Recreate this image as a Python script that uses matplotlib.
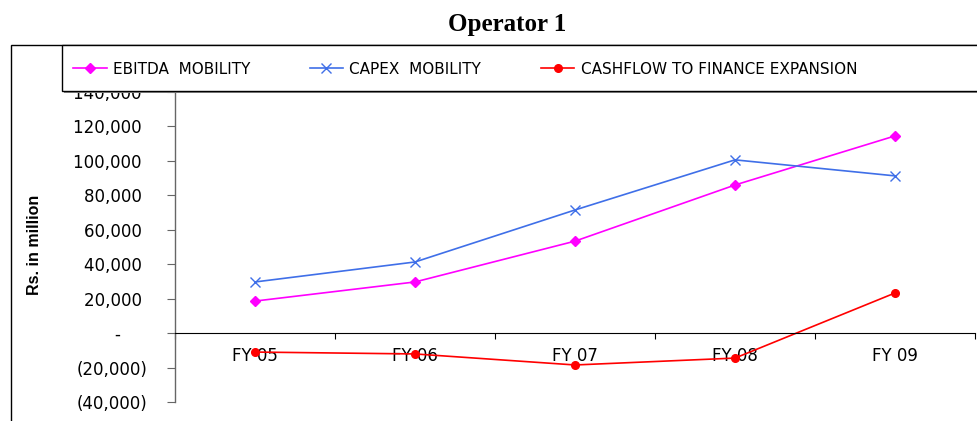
import matplotlib
matplotlib.use("Agg")
import matplotlib.pyplot as plt
from matplotlib.patches import Rectangle
from matplotlib.ticker import FixedLocator, FuncFormatter, NullFormatter

# ---------------------------------------------------------------------------
# Data (Rs. in million)
# ---------------------------------------------------------------------------
years    = ["FY 05", "FY 06", "FY 07", "FY 08", "FY 09"]
ebitda   = [18600, 29700, 53400, 86000, 114500]
capex    = [29700, 41300, 71500, 100600, 91300]
cashflow = [-11000, -12100, -18500, -14500, 23300]

series_names  = ["EBITDA  MOBILITY", "CAPEX  MOBILITY",
                 "CASHFLOW TO FINANCE EXPANSION"]
y_ticks = [-40000, -20000, 0, 20000, 40000, 60000, 80000, 100000, 120000, 140000]

W, H = 978, 421
fig = plt.figure(figsize=(W / 100, H / 100), dpi=100)
fig.patch.set_facecolor("white")


def fx(px):
    return px / W


def fy(py):
    return 1 - py / H


ax = fig.add_axes([fx(175), fy(402), (975 - 175) / W, (402 - 92) / H])

x = list(range(len(years)))
l1, = ax.plot(x, ebitda, color="#ff00ff", lw=1.2, marker="D", ms=5.5,
              mec="#ff00ff", mfc="#ff00ff")
l2, = ax.plot(x, capex, color="#3f6fe8", lw=1.2, marker="x", ms=7,
              mew=1.0)
l3, = ax.plot(x, cashflow, color="#ff0000", lw=1.2, marker="o", ms=5.5)

ax.set_xlim(-0.5, len(years) - 0.5)
ax.set_ylim(-40000, 140000)

# spines
ax.spines["top"].set_visible(False)
ax.spines["right"].set_visible(False)
ax.spines["bottom"].set_position(("data", 0))
ax.spines["bottom"].set_color("black")
ax.spines["left"].set_color("#666666")
ax.spines["left"].set_linewidth(1.0)

# x axis: tick marks on category boundaries, labels on centres
bounds = [i - 0.5 for i in range(len(years) + 1)]
ax.xaxis.set_major_locator(FixedLocator(bounds))
ax.xaxis.set_major_formatter(NullFormatter())
ax.xaxis.set_minor_locator(FixedLocator(x))
ax.set_xticklabels(years, minor=True)
ax.tick_params(axis="x", which="major", length=4, direction="out",
               color="black", width=0.8)
ax.tick_params(axis="x", which="minor", length=0, pad=10, labelsize=12)


def fmt(v, pos):
    if v == 0:
        return "-     "
    if v < 0:
        return "({:,.0f})".format(-v)
    return "{:,.0f} ".format(v)


ax.yaxis.set_major_locator(FixedLocator(y_ticks))
ax.yaxis.set_major_formatter(FuncFormatter(fmt))
ax.tick_params(axis="y", length=6, direction="out", color="#666666",
               width=0.8, pad=14, labelsize=12)

ax.set_ylabel("Rs. in million", fontsize=11.5, fontweight="bold",
              family="Liberation Sans")
ax.yaxis.set_label_coords(-0.166, 0.506)

# title
fig.text(fx(507), fy(25), "Operator 1", ha="center", va="center",
         fontsize=18, fontweight="bold", family="Liberation Serif")

# outer chart frame (clipped by the image edges, like the reference)
fig.patches.append(Rectangle((fx(11), -0.2), 1.2, fy(45) + 0.2,
                             transform=fig.transFigure, fill=False,
                             edgecolor="black", lw=1.0, zorder=0.5))

# legend box with a soft shadow on its lower edge
fig.patches.append(Rectangle((fx(64), fy(93)), 1.2, (93 - 47) / H,
                             transform=fig.transFigure, facecolor="#8c8c8c",
                             edgecolor="none", zorder=3))
fig.patches.append(Rectangle((fx(62), fy(91)), 1.2, (91 - 45) / H,
                             transform=fig.transFigure, facecolor="white",
                             edgecolor="black", lw=1.0, zorder=3.1))

leg = fig.legend([l1, l2, l3], series_names, loc="center left",
                 bbox_to_anchor=(fx(73), fy(69)), bbox_transform=fig.transFigure,
                 ncol=3, frameon=False, fontsize=11, borderpad=0,
                 borderaxespad=0, handlelength=2.2, handletextpad=0.4,
                 columnspacing=3.9)
leg.set_zorder(4)

fig.savefig("out.png", dpi=100)
